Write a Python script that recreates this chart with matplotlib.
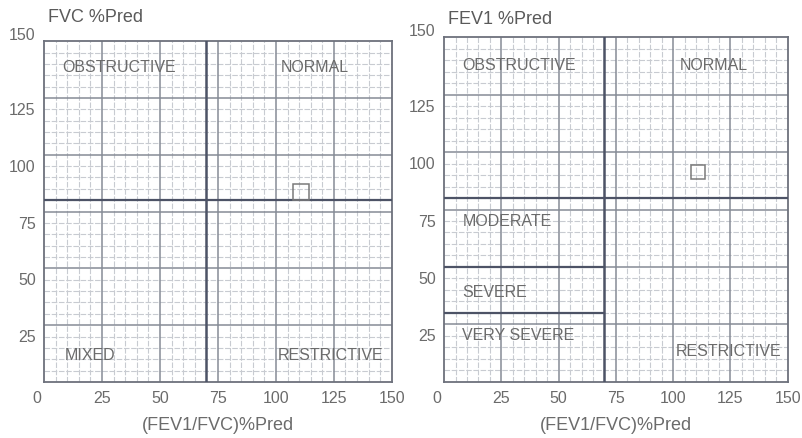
import matplotlib
matplotlib.use('Agg')
import matplotlib.pyplot as plt
import matplotlib.transforms as mtransforms
import numpy as np

plt.rcParams['font.family'] = ['Liberation Sans', 'DejaVu Sans']

# Data
ticks = [0, 25, 50, 75, 100, 125, 150]
ratio_cut = 70          # (FEV1/FVC)%Pred cut-off
fvc_cut = 80            # FVC %Pred cut-off
fev1_cuts = [80, 50, 30]  # FEV1 %Pred severity cut-offs
patient_ratio = [111, 111]
patient_fvc = 83.5
patient_fev1 = 91.5

left_labels = ['OBSTRUCTIVE', 'NORMAL', 'MIXED', 'RESTRICTIVE']
left_label_pos = [(8, 139), (102, 139), (9, 12), (101, 12)]
right_labels = ['OBSTRUCTIVE', 'NORMAL', 'MODERATE', 'SEVERE', 'VERY SEVERE', 'RESTRICTIVE']
right_label_pos = [(8, 138), (103, 138), (8, 70), (8, 39.5), (8, 20.5), (101, 13.5)]

text_col = '#6b6b6b'
minor_col = '#c8cbd1'
major_col = '#868b96'
cut_col = '#4d5366'


def shift(fig, dx, dy):
    return mtransforms.ScaledTranslation(dx / 100, dy / 100, fig.dpi_scale_trans)


fig = plt.figure(figsize=(8.03, 4.39), dpi=100)
ax1 = fig.add_axes([0.0548, 0.1276, 0.4332, 0.7764])
ax2 = fig.add_axes([0.553, 0.1276, 0.428, 0.7858])


def style_grid(ax):
    ax.set_xlim(0, 150)
    ax.set_ylim(0, 150)
    for v in np.arange(5, 150, 5):
        if v % 25 == 0:
            continue
        ax.axvline(v, color=minor_col, lw=0.8, ls=(0, (5, 1.5)), zorder=1)
        ax.axhline(v, color=minor_col, lw=0.8, ls=(0, (5, 1.5)), zorder=1)
    for v in [25, 50, 75, 100, 125]:
        ax.axvline(v, color=major_col, lw=1.1, zorder=2)
        ax.axhline(v, color=major_col, lw=1.1, zorder=2)
    for s in ax.spines.values():
        s.set_color('#6d717c')
        s.set_linewidth(1.3)
    ax.set_xticks(ticks)
    ax.set_yticks(ticks[1:])
    ax.tick_params(length=0, labelsize=11.5, labelcolor=text_col, pad=6)
    # the corner "0" sits slightly left of the origin
    lab0 = ax.get_xticklabels()[0]
    lab0.set_transform(lab0.get_transform() + shift(fig, -7, 0))
    # printed y labels sit a little off their grid lines
    for lab in ax.get_yticklabels():
        dy = 8 if lab.get_text() == '150' else -10
        lab.set_transform(lab.get_transform() + shift(fig, 0, dy))
    ax.set_xlabel('(FEV1/FVC)%Pred', fontsize=13, color=text_col, labelpad=8)


style_grid(ax1)
style_grid(ax2)

# left panel: FVC
ax1.axvline(ratio_cut, color=cut_col, lw=1.8, zorder=3)
ax1.axhline(fvc_cut, color=cut_col, lw=1.6, zorder=3)
ax1.plot(patient_ratio[0], patient_fvc, marker='s', ms=11.5, mfc='none',
         mec='#7a7a7a', mew=1.1, zorder=4)
for lab, (x, y) in zip(left_labels, left_label_pos):
    ax1.text(x, y, lab, fontsize=11.5, color=text_col, va='center', ha='left', zorder=5)

# right panel: FEV1
ax2.axvline(ratio_cut, color=cut_col, lw=1.8, zorder=3)
ax2.axhline(fev1_cuts[0], color=cut_col, lw=1.6, zorder=3)
for c in fev1_cuts[1:]:
    ax2.plot([0, ratio_cut], [c, c], color=cut_col, lw=1.6, zorder=3)
ax2.plot(patient_ratio[1], patient_fev1, marker='s', ms=10.5, mfc='none',
         mec='#7a7a7a', mew=1.1, zorder=4)
for lab, (x, y) in zip(right_labels, right_label_pos):
    ax2.text(x, y, lab, fontsize=11.5, color=text_col, va='center', ha='left', zorder=5)

fig.text(48 / 803, 1 - 17 / 439, 'FVC %Pred', fontsize=13, color='#5a5a5a', va='center', ha='left')
fig.text(448 / 803, 1 - 20 / 439, 'FEV1 %Pred', fontsize=13, color='#5a5a5a', va='center', ha='left')

fig.savefig('out.png', dpi=100, facecolor='white')
